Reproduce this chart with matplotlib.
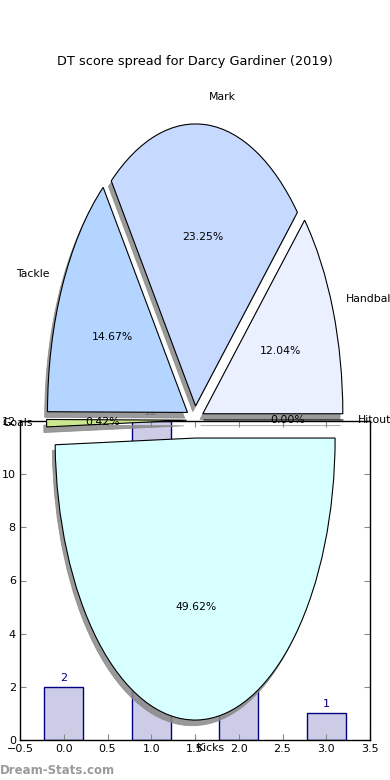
import matplotlib
matplotlib.use("Agg")
import matplotlib.pyplot as plt
from matplotlib.patches import Wedge

# ---- data ----
pie_labels = ["Hitout", "Handball", "Mark", "Tackle", "Goals", "Kicks"]
pie_values = [0.00, 12.04, 23.25, 14.67, 0.42, 49.62]
pie_colors = ["#ffe0e0", "#eaf0ff", "#c6d9ff", "#b4d5ff", "#cce88c", "#d8ffff"]
pie_explode = [0.06, 0.06, 0.05, 0.06, 0.06, 0.064]

bar_x = [0, 1, 2, 3]
bar_values = [2, 12, 4, 1]
xticks = [-0.5, 0.0, 0.5, 1.0, 1.5, 2.0, 2.5, 3.0, 3.5]
yticks = [0, 2, 4, 6, 8, 10, 12]

title = "DT score spread for Darcy Gardiner (2019)"
watermark = "Dream-Stats.com"

W, H = 390, 780
fig = plt.figure(figsize=(W / 100, H / 100), dpi=100)
fig.patch.set_facecolor("white")

# ---- bar axes ----
axb = fig.add_axes([20 / W, 1 - 740 / H, 350 / W, (740 - 421) / H])
axb.set_zorder(0)
bars = axb.bar(bar_x, bar_values, width=0.45, align="center",
               color="#ccccE6", edgecolor="#000080", linewidth=1.0)
for xv, yv in zip(bar_x, bar_values):
    axb.annotate(str(yv), (xv, yv), xytext=(0, 3), textcoords="offset points",
                 ha="center", va="bottom", fontsize=8, color="#000080",
                 annotation_clip=False)
axb.set_xlim(-0.5, 3.5)
axb.set_ylim(0, 12)
axb.set_xticks(xticks)
axb.set_yticks(yticks)
axb.set_xticklabels([f"{t:.1f}".replace("-", "\u2212") for t in xticks])
axb.tick_params(direction="in", top=True, right=True, labelsize=8,
                length=4, width=0.8, color="#888888", pad=3)
for s in axb.spines.values():
    s.set_linewidth(1.0)

# ---- pie axes ----
cy = 1 - 420 / H
hh = 1.25 * 282 / H
axp = fig.add_axes([20 / W, cy - hh, 350 / W, 2 * hh])
axp.set_zorder(1)
axp.patch.set_alpha(0)
wedges, texts, autotexts = axp.pie(
    pie_values, labels=pie_labels, colors=pie_colors, explode=pie_explode,
    autopct="%.2f%%", startangle=0, counterclock=True,
    wedgeprops=dict(edgecolor="black", linewidth=0.8),
    textprops=dict(fontsize=7.8, color="black"))
for w in wedges:
    cx0, cy0 = w.center
    sh = Wedge((cx0 - 0.02, cy0 - 0.02), w.r, w.theta1, w.theta2,
               facecolor="#888888", edgecolor="#888888", linewidth=0.6,
               alpha=0.85, zorder=w.get_zorder() - 0.1)
    axp.add_patch(sh)
axp.set_aspect("auto")
axp.set_xlim(-1.25, 1.25)
axp.set_ylim(-1.25, 1.25)
axp.set_axis_off()
axp.set_title(title, fontsize=9.3, pad=1.5)

fig.text(0.0, 1 - 771 / H, watermark, fontsize=8.5, color="#9a9a9a",
         fontweight="bold", ha="left", va="center")

fig.savefig("out.png", dpi=100, facecolor="white")
